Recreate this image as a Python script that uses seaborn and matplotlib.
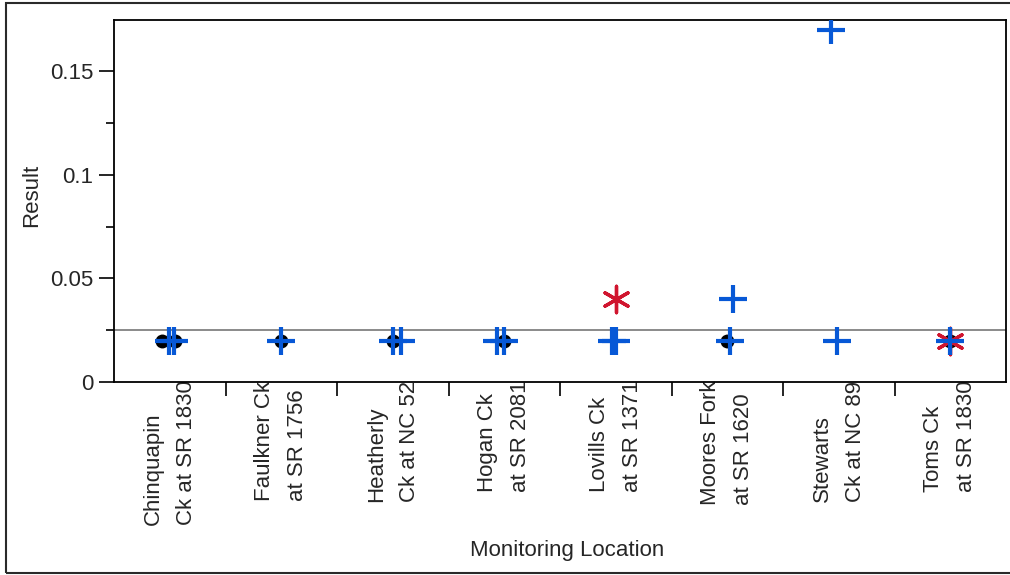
import numpy as np
import pandas as pd
import matplotlib
matplotlib.use("Agg")
import matplotlib.pyplot as plt
from matplotlib.patches import Rectangle
from matplotlib.ticker import FixedLocator
import seaborn as sns

# ---------------- data ----------------
locations = [
    "Chinquapin Ck at SR 1830",
    "Faulkner Ck at SR 1756",
    "Heatherly Ck at NC 52",
    "Hogan Ck at SR 2081",
    "Lovills Ck at SR 1371",
    "Moores Fork at SR 1620",
    "Stewarts Ck at NC 89",
    "Toms Ck at SR 1830",
]
tick_labels = [
    "Chinquapin\nCk at SR 1830",
    "Faulkner Ck\nat SR 1756",
    "Heatherly\nCk at NC 52",
    "Hogan Ck\nat SR 2081",
    "Lovills Ck\nat SR 1371",
    "Moores Fork\nat SR 1620",
    "Stewarts\nCk at NC 89",
    "Toms Ck\nat SR 1830",
]

# group A (black dots)
dot_locations = [locations[0], locations[0], locations[1], locations[2],
                 locations[3], locations[5], locations[7]]
dot_results = [0.02, 0.02, 0.02, 0.02, 0.02, 0.02, 0.02]

# group B (blue plus)
plus_locations = [locations[0], locations[0], locations[1], locations[2], locations[2],
                  locations[3], locations[3], locations[4], locations[4],
                  locations[5], locations[5], locations[6], locations[6], locations[7]]
plus_results = [0.02, 0.02, 0.02, 0.02, 0.02,
                0.02, 0.02, 0.02, 0.02,
                0.02, 0.04, 0.02, 0.17, 0.02]

# group C (red asterisk)
star_locations = [locations[4], locations[7]]
star_results = [0.04, 0.02]

reference_level = 0.025
y_major = [0, 0.05, 0.1, 0.15]
y_major_labels = ["0", "0.05", "0.1", "0.15"]
y_minor = [0.025, 0.075, 0.125]

# ---------------- style ----------------
sns.set_style("white")
plt.rcParams["font.family"] = ["Liberation Sans", "DejaVu Sans"]
plt.rcParams["font.size"] = 16

BLUE = "#0758D6"
RED = "#D0152F"

fig = plt.figure(figsize=(10.1, 5.75), dpi=100)
ax = fig.add_axes([114 / 1010, 1 - 382 / 575, 892 / 1010, 362 / 575])

np.random.seed(7)

df_dot = pd.DataFrame({"Monitoring Location": dot_locations, "Result": dot_results})
df_plus = pd.DataFrame({"Monitoring Location": plus_locations, "Result": plus_results})
df_star = pd.DataFrame({"Monitoring Location": star_locations, "Result": star_results})

ax.axhline(reference_level, color="#8a8a8a", lw=1.4, zorder=1)

sns.stripplot(data=df_dot, x="Monitoring Location", y="Result", order=locations,
              ax=ax, color="black", marker="o", size=10, jitter=0.08, zorder=3,
              linewidth=0)
sns.stripplot(data=df_star, x="Monitoring Location", y="Result", order=locations,
              ax=ax, color=RED, marker=(6, 2, 0), size=19, jitter=0.08, zorder=4,
              linewidth=2.4)
sns.stripplot(data=df_plus, x="Monitoring Location", y="Result", order=locations,
              ax=ax, color=BLUE, marker="+", size=20, jitter=0.08, zorder=5,
              linewidth=3.0)

# ---------------- axes ----------------
ax.set_xlim(-0.5, len(locations) - 0.5)
ax.set_ylim(0, 0.1746)

ax.yaxis.set_major_locator(FixedLocator(y_major))
ax.set_yticklabels(y_major_labels)
ax.yaxis.set_minor_locator(FixedLocator(y_minor))
ax.tick_params(axis="y", which="major", direction="out", length=11, width=1.2,
               color="black", labelsize=16, pad=4, left=True)
ax.tick_params(axis="y", which="minor", direction="out", length=6, width=1.2,
               color="black", left=True)

ax.set_xticks(range(len(locations)))
ax.set_xticklabels(tick_labels, rotation=90, ha="center", va="top",
                   multialignment="left", linespacing=1.75)
ax.xaxis.set_minor_locator(FixedLocator([i + 0.5 for i in range(len(locations) - 1)]))
ax.tick_params(axis="x", which="major", length=0, pad=-1, labelsize=16, bottom=True)
ax.tick_params(axis="x", which="minor", direction="out", length=10, width=1.2,
               color="black", bottom=True)

for s in ax.spines.values():
    s.set_visible(True)
    s.set_color("black")
    s.set_linewidth(1.3)

ax.set_xlabel("Monitoring Location", fontsize=16)
ax.set_ylabel("Result", fontsize=16)
ax.xaxis.set_label_coords((567 - 114) / 892, (382 - 540) / 362)
ax.yaxis.set_label_coords((42 - 114) / 892, (382 - 195) / 362)
ax.grid(False)

# outer frame
fig.patches.append(Rectangle((5.5 / 1010, 2.5 / 575), 1.2, 1 - 5.5 / 575,
                             transform=fig.transFigure, fill=False,
                             edgecolor="#2a2a2a", linewidth=1.5, zorder=0))

fig.savefig("out.png", dpi=100)
